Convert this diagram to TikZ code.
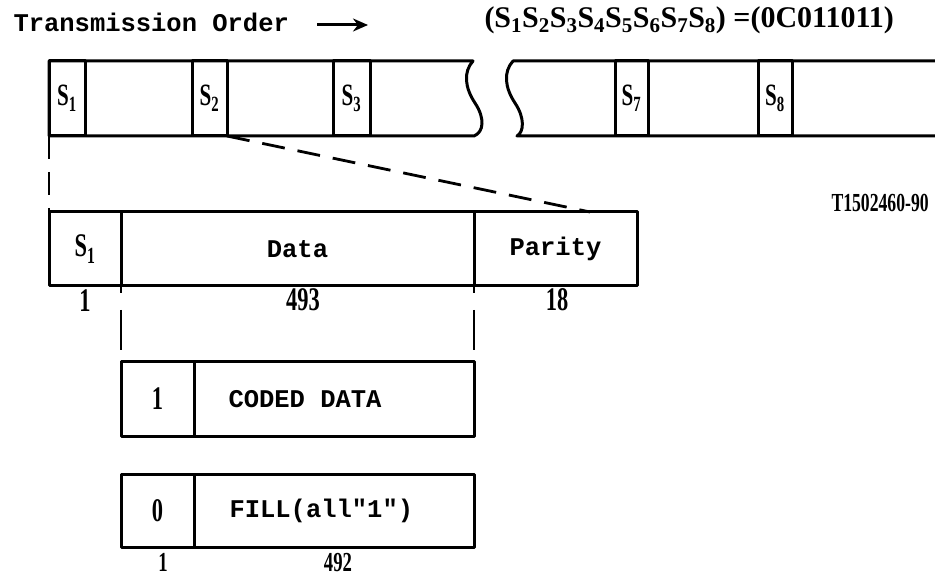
\documentclass[tikz,border=0pt]{standalone}
\usepackage{fontspec}
\newfontfamily\tw{Liberation Mono}
\newfontfamily\nar[FakeStretch=0.68]{Liberation Serif}
\newfontfamily\ser{Liberation Serif}
\usetikzlibrary{arrows.meta}
\tikzset{
  tt/.style={font={\tw\bfseries\fontsize{25.5}{25.5}\selectfont}},
  nr/.style={font={\nar\bfseries\fontsize{33}{33}\selectfont}},
  nrs/.style={font={\nar\bfseries\fontsize{31}{31}\selectfont}},
  nrb/.style={font={\nar\bfseries\fontsize{27.5}{27.5}\selectfont}},
  cell/.style={draw, inner sep=0pt, outer sep=0pt, anchor=north west, minimum height=#1},
  cell/.default=75pt,
  dashline/.style={line width=2.8pt, dash pattern=on 23pt off 13pt},
  vdash/.style={line width=2.8pt, dash pattern=on 7pt off 17pt on 40pt off 20pt},
}
\begin{document}
\begin{tikzpicture}[x=1pt,y=-1pt,line width=3pt,line join=round]
\useasboundingbox[fill=white] (0,0) rectangle (935,577);
% title and arrow
\node[tt, anchor=west, inner sep=0pt] (title) at (12,22) {Transmission Order};
\coordinate (a1) at (317,25);
\coordinate (a2) at (368,25);
\draw[line width=3pt, -{Stealth[length=15pt,width=13pt]}] (a1) -- (a2);
\node[anchor=west, inner sep=0pt, font={\ser\bfseries\fontsize{30}{30}\selectfont}] (formula) at (483,20)
  {(S\textsubscript{1}S\textsubscript{2}S\textsubscript{3}S\textsubscript{4}S\textsubscript{5}S\textsubscript{6}S\textsubscript{7}S\textsubscript{8}) =(0C011011)};
% top bar outline
\draw (49,61) -- (473,61) .. controls (463,72) and (465,88) .. (475,103)
      .. controls (485,118) and (484,132) .. (474,136) -- (49,136) -- cycle;
\draw (945,61) -- (513,61) .. controls (503,72) and (505,88) .. (515,103)
      .. controls (525,118) and (524,132) .. (517,136) -- (945,136);
% slot cells
\node[cell, nrs, minimum width=36pt] (s1) at (49,61) {S\textsubscript{1}};
\node[cell, nrs, minimum width=35pt] (s2) at (192,61) {S\textsubscript{2}};
\node[cell, nrs, minimum width=37pt] (s3) at (333,61) {S\textsubscript{3}};
\node[cell, nrs, minimum width=33pt] (s7) at (615,61) {S\textsubscript{7}};
\node[cell, nrs, minimum width=34pt] (s8) at (758,61) {S\textsubscript{8}};
\node[anchor=west, inner sep=0pt, font={\nar\bfseries\fontsize{26}{26}\selectfont}] (tag) at (830,203) {T1502460-90};
% expanded frame
\node[cell=74pt, nr, minimum width=72pt] (bs) at (49,212) {S\textsubscript{1}};
\node[cell=74pt, tt, minimum width=353pt] (data) at (bs.north east) {Data};
\node[cell=74pt, tt, minimum width=163pt] (par) at (data.north east) {Parity};
\node[nr, inner sep=0pt] (n1) at (85,301) {1};
\node[nr, inner sep=0pt] (n493) at (303,300) {493};
\node[nr, inner sep=0pt] (n18) at (557,300) {18};
\coordinate (dend) at (590,212);
\draw[dashline] (s1.south west) -- (bs.north west);
\draw[dashline] (s2.south east) -- (dend);
% coded data / fill
\node[cell=74pt, nr, minimum width=73pt] (c1) at (121,362) {1};
\node[cell=74pt, tt, minimum width=280pt] (c2) at (c1.north east) {};
\node[tt, anchor=west, inner sep=0pt] (ctext) at ([xshift=33pt]c2.west) {CODED DATA};
\node[cell=73pt, nr, minimum width=73pt] (f1) at (121,474) {0};
\node[cell=73pt, tt, minimum width=280pt] (f2) at (f1.north east) {};
\node[tt, anchor=west, inner sep=0pt] (ftext) at ([xshift=34pt]f2.west) {FILL(all"1")};
\draw[vdash] (data.south west) -- (c1.north west);
\draw[vdash] (data.south east) -- (c2.north east);
\node[nrb, inner sep=0pt] (b1) at (163,562.5) {1};
\node[nrb, inner sep=0pt] (b492) at (338,562.5) {492};
\end{tikzpicture}
\end{document}
